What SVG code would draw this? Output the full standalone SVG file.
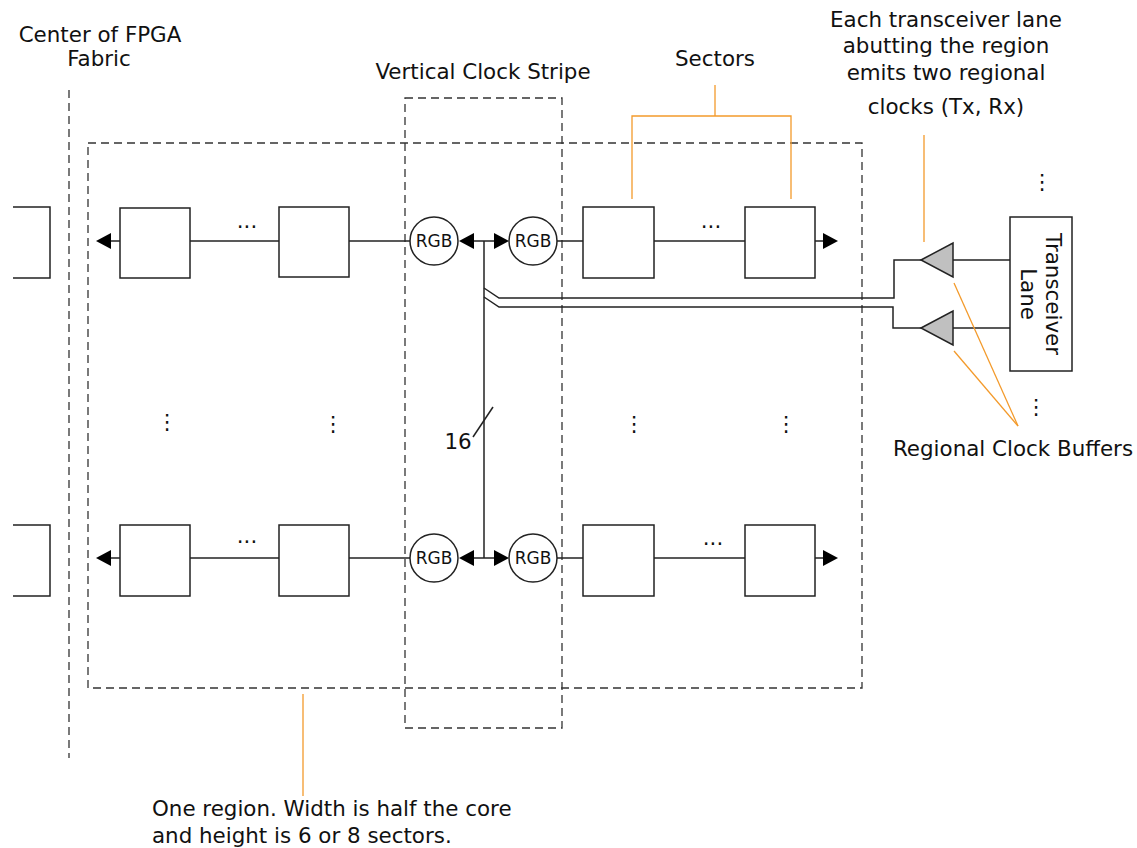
<svg xmlns="http://www.w3.org/2000/svg" width="1137" height="848" viewBox="0 0 1137 848">
<style>
text{font-family:"DejaVu Sans",Verdana,sans-serif;fill:#111;}
.lbl{font-size:21.4px;}
.rgb{font-size:17px;}
.box{fill:#fff;stroke:#222;stroke-width:1.5;}
.ln{fill:none;stroke:#222;stroke-width:1.5;}
.dash{fill:none;stroke:#333;stroke-width:1.3;stroke-dasharray:8,5;}
.or{fill:none;stroke:#f39a2b;stroke-width:1.3;}
.arr{fill:#000;}
.buf{fill:#c0c0c0;stroke:#222;stroke-width:1.5;}
</style>
<rect width="1137" height="848" fill="#fff"/>

<g id="boundaries">
<line class="dash" x1="69" y1="90" x2="69" y2="758"/>
<rect id="region" class="dash" x="88" y="143" width="774" height="545"/>
<rect id="vstripe" class="dash" x="405" y="98" width="157" height="630"/>
</g>

<g id="connectors">
<line class="ln" x1="110" y1="241" x2="120" y2="241"/>
<line class="ln" x1="190" y1="241" x2="279" y2="241"/>
<line class="ln" x1="349" y1="241" x2="410" y2="241"/>
<line class="ln" x1="473" y1="241" x2="495" y2="241"/>
<line class="ln" x1="557" y1="241" x2="583" y2="241"/>
<line class="ln" x1="654" y1="241" x2="745" y2="241"/>
<line class="ln" x1="815" y1="241" x2="824" y2="241"/>
<polygon class="arr" points="96,241 111,233 111,249"/>
<polygon class="arr" points="459,241 474,233 474,249"/>
<polygon class="arr" points="509,241 494,233 494,249"/>
<polygon class="arr" points="838,241 823,233 823,249"/>
<line class="ln" x1="110" y1="558" x2="120" y2="558"/>
<line class="ln" x1="190" y1="558" x2="279" y2="558"/>
<line class="ln" x1="349" y1="558" x2="410" y2="558"/>
<line class="ln" x1="473" y1="558" x2="495" y2="558"/>
<line class="ln" x1="557" y1="558" x2="583" y2="558"/>
<line class="ln" x1="654" y1="558" x2="745" y2="558"/>
<line class="ln" x1="815" y1="558" x2="824" y2="558"/>
<polygon class="arr" points="96,558 111,550 111,566"/>
<polygon class="arr" points="459,558 474,550 474,566"/>
<polygon class="arr" points="509,558 494,550 494,566"/>
<polygon class="arr" points="838,558 823,550 823,566"/>
<line class="ln" x1="484" y1="241" x2="484" y2="558"/>
<line class="ln" x1="473" y1="437" x2="493" y2="407"/>
<polyline class="ln" points="484,288 499,298 894,298 894,260 921,260"/>
<polyline class="ln" points="484,297 499,307 893,307 893,328 921,328"/>
<line class="ln" x1="953" y1="260" x2="1010" y2="260"/>
<line class="ln" x1="953" y1="328" x2="1010" y2="328"/>
</g>

<g id="partial-top"><polyline class="ln" points="13,207 50,207 50,278 13,278"/></g>
<g id="partial-bottom"><polyline class="ln" points="13,525 50,525 50,596 13,596"/></g>

<g id="sector-t1"><rect class="box" x="120" y="208" width="70" height="70"/></g>
<g id="sector-t2"><rect class="box" x="279" y="207" width="70" height="70"/></g>
<g id="sector-t3"><rect class="box" x="583" y="207" width="71" height="71"/></g>
<g id="sector-t4"><rect class="box" x="745" y="207" width="70" height="71"/></g>
<g id="sector-b1"><rect class="box" x="120" y="525" width="70" height="71"/></g>
<g id="sector-b2"><rect class="box" x="279" y="525" width="70" height="71"/></g>
<g id="sector-b3"><rect class="box" x="583" y="525" width="71" height="71"/></g>
<g id="sector-b4"><rect class="box" x="745" y="525" width="70" height="71"/></g>

<g id="rgb-t1"><circle class="box" cx="434" cy="241" r="24"/><text class="rgb" x="434" y="247" text-anchor="middle">RGB</text></g>
<g id="rgb-t2"><circle class="box" cx="533" cy="241" r="24"/><text class="rgb" x="533" y="247" text-anchor="middle">RGB</text></g>
<g id="rgb-b1"><circle class="box" cx="434" cy="558" r="24"/><text class="rgb" x="434" y="564" text-anchor="middle">RGB</text></g>
<g id="rgb-b2"><circle class="box" cx="533" cy="558" r="24"/><text class="rgb" x="533" y="564" text-anchor="middle">RGB</text></g>

<g id="buffer-tx"><polygon class="buf" points="921,260 953,243 953,277"/></g>
<g id="buffer-rx"><polygon class="buf" points="921,328 953,311 953,345"/></g>

<g id="transceiver">
<rect class="box" x="1010" y="217" width="62" height="154"/>
<text class="lbl" transform="translate(1046,294) rotate(90)" text-anchor="middle">Transceiver</text>
<text class="lbl" transform="translate(1021,294) rotate(90)" text-anchor="middle">Lane</text>
</g>

<g id="dots">
<text class="lbl" x="247" y="228" text-anchor="middle">...</text>
<text class="lbl" x="711" y="228" text-anchor="middle">...</text>
<text class="lbl" x="247" y="543" text-anchor="middle">...</text>
<text class="lbl" x="713" y="545" text-anchor="middle">...</text>
<text class="lbl" x="167" y="429" text-anchor="middle">⋮</text>
<text class="lbl" x="333" y="431" text-anchor="middle">⋮</text>
<text class="lbl" x="634" y="431" text-anchor="middle">⋮</text>
<text class="lbl" x="786" y="431" text-anchor="middle">⋮</text>
<text class="lbl" x="1042" y="189" text-anchor="middle">⋮</text>
<text class="lbl" x="1036" y="414" text-anchor="middle">⋮</text>
</g>

<g id="annotations">
<polyline class="or" points="632,199 632,116 791,116 791,199"/>
<line class="or" x1="715" y1="85" x2="715" y2="116"/>
<line class="or" x1="924" y1="135" x2="924" y2="242"/>
<line class="or" x1="954" y1="283" x2="1018" y2="426"/>
<line class="or" x1="954" y1="351" x2="1018" y2="426"/>
<line class="or" x1="303" y1="694" x2="303" y2="796"/>
</g>

<g id="labels">
<text class="lbl" x="100" y="42" text-anchor="middle">Center of FPGA</text>
<text class="lbl" x="99" y="66" text-anchor="middle">Fabric</text>
<text class="lbl" x="483" y="79" text-anchor="middle">Vertical Clock Stripe</text>
<text class="lbl" x="715" y="66" text-anchor="middle">Sectors</text>
<text class="lbl" x="946" y="27" text-anchor="middle">Each transceiver lane</text>
<text class="lbl" x="946" y="53" text-anchor="middle">abutting the region</text>
<text class="lbl" x="946" y="80" text-anchor="middle">emits two regional</text>
<text class="lbl" x="946" y="114" text-anchor="middle">clocks (Tx, Rx)</text>
<text class="lbl" x="1013" y="456" text-anchor="middle">Regional Clock Buffers</text>
<text class="lbl" x="458" y="449" text-anchor="middle">16</text>
<text class="lbl" x="152" y="816">One region. Width is half the core</text>
<text class="lbl" x="152" y="843">and height is 6 or 8 sectors.</text>
</g>
</svg>
